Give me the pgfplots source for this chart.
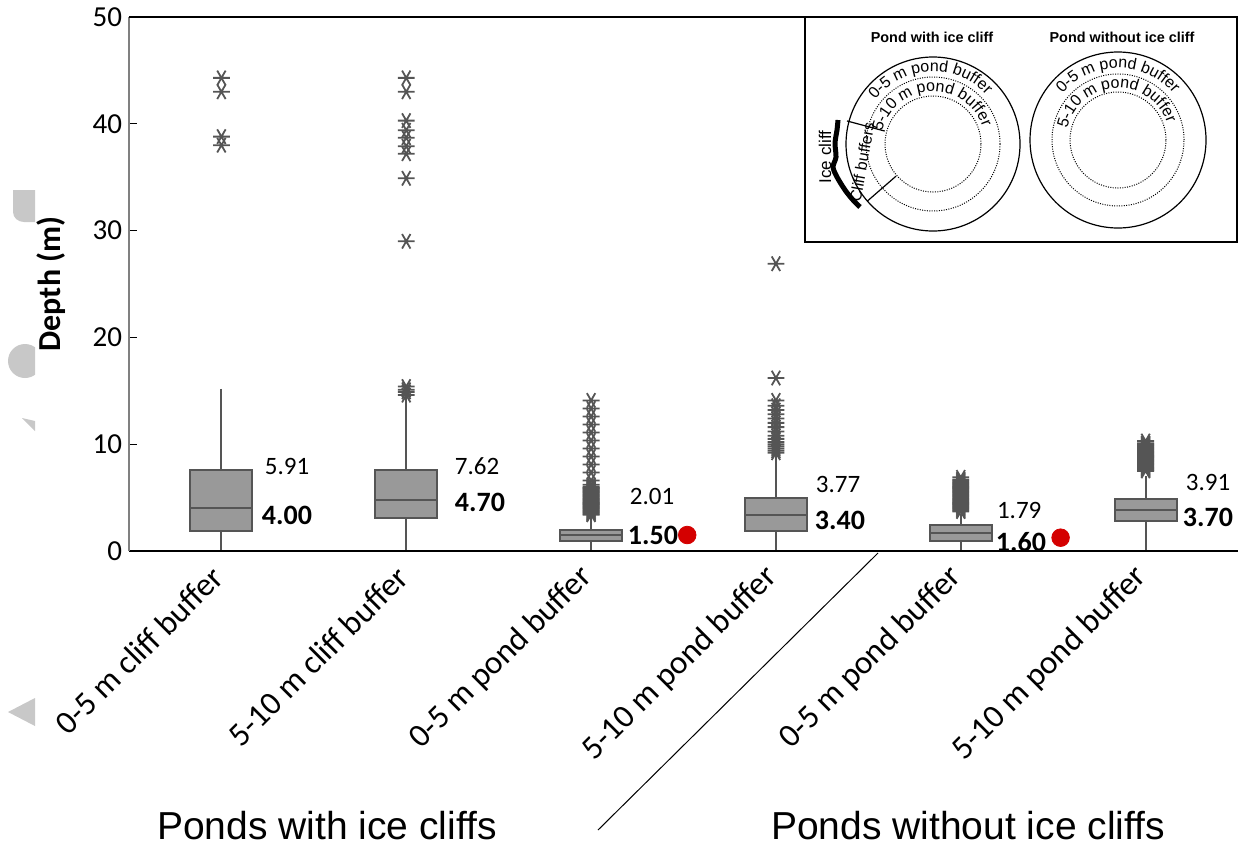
\documentclass[border=0pt]{standalone}
\usepackage{fontspec}
\setmainfont{Carlito}
\newfontfamily\arialf{Liberation Sans}
\usepackage{pgfplots}
\pgfplotsset{compat=1.18}
\usepgfplotslibrary{statistics}
\usetikzlibrary{decorations.text,calc}
\definecolor{boxfill}{HTML}{999999}
\definecolor{boxline}{HTML}{555555}
\definecolor{sig}{HTML}{D40000}
\definecolor{ghost}{HTML}{C8C8C8}
\newcommand\meanfont{\fontsize{12.5bp}{14bp}\selectfont}
\newcommand\medfont{\fontsize{14bp}{16bp}\selectfont\bfseries}
\newcommand\insetfont{\arialf\fontsize{8bp}{9.5bp}\selectfont}
\pgfplotsset{boxst/.style={draw=boxline, fill=boxfill, line width=1bp, solid, mark=none, boxplot/draw direction=y}}
\begin{document}
\begin{tikzpicture}
\begin{axis}[
  at={(64.5bp,-275.5bp)}, anchor=south west,
  scale only axis, width=554.5bp, height=267bp,
  xmin=-0.5, xmax=5.5, ymin=0, ymax=50,
  axis line style={draw=none},
  xtick={0,1,2,3,4,5},
  xticklabels={0-5 m cliff buffer,5-10 m cliff buffer,0-5 m pond buffer,5-10 m pond buffer,0-5 m pond buffer,5-10 m pond buffer},
  ytick={0,10,20,30,40,50},
  xtick pos=bottom, ytick pos=left, tick align=inside,
  major tick length=4bp, tick style={black, line width=0.6bp},
  /pgf/number format/assume math mode=true,
  yticklabel style={font=\fontsize{14.5bp}{16bp}\selectfont},
  xticklabel style={font=\fontsize{16.5bp}{18bp}\selectfont, yshift=-8bp, xshift=0.5bp, rotate=45, anchor=east},
  ylabel={\bfseries Depth (m)},
  ylabel style={font=\fontsize{16bp}{18bp}\selectfont, at={(axis description cs:-0.070,0.5)}, anchor=center},
  boxplot/draw direction=y,
  boxplot/box extend=0.335, boxplot/whisker extend=0,
  clip=false,
]
\addplot[boxst, boxplot prepared={lower whisker=0, lower quartile=1.9, median=4.05, upper quartile=7.58, upper whisker=15.2, draw position=0}] coordinates {};
\addplot[boxst, boxplot prepared={lower whisker=0, lower quartile=3.1, median=4.78, upper quartile=7.58, upper whisker=14.5, draw position=1}] coordinates {};
\addplot[boxst, boxplot prepared={lower whisker=0, lower quartile=0.97, median=1.47, upper quartile=1.97, upper whisker=3.3, draw position=2}] coordinates {};
\addplot[boxst, boxplot prepared={lower whisker=0, lower quartile=1.9, median=3.37, upper quartile=5.0, upper whisker=9.0, draw position=3}] coordinates {};
\addplot[boxst, boxplot prepared={lower whisker=0, lower quartile=0.97, median=1.72, upper quartile=2.43, upper whisker=3.5, draw position=4}] coordinates {};
\addplot[boxst, boxplot prepared={lower whisker=0, lower quartile=2.84, median=3.84, upper quartile=4.84, upper whisker=7.0, draw position=5}] coordinates {};
% outliers
\addplot[only marks, mark=asterisk, mark size=4.2bp, mark options={rotate=90, line width=0.9bp}, color=boxline] coordinates {
(0,44.3) (0,43.0) (0,38.8) (0,38.0)
(1,44.3) (1,43.0) (1,40.3) (1,39.4) (1,38.7) (1,37.9) (1,37.2) (1,34.9) (1,29.0) (1,15.4) (1,15.1) (1,14.9) (1,14.6)
(2,3.4) (2,3.5) (2,3.6) (2,3.7) (2,3.8) (2,3.9) (2,4.0) (2,4.1) (2,4.2) (2,4.3) (2,4.4) (2,4.5) (2,4.6) (2,4.7) (2,4.8) (2,4.9) (2,5.0) (2,5.1) (2,5.2) (2,5.3) (2,5.4) (2,5.5) (2,5.6) (2,5.7) (2,5.8) (2,5.9) (2,6.0) (2,6.2)
(2,6.6) (2,7.35) (2,8.1) (2,8.85) (2,9.6) (2,10.35) (2,11.1) (2,11.85) (2,12.6) (2,13.35) (2,14.1)
(3,9.2) (3,9.4) (3,9.6) (3,9.8) (3,10.0) (3,10.2) (3,10.5) (3,10.8) (3,11.2) (3,11.6) (3,12.0) (3,12.4) (3,12.8) (3,13.2) (3,13.6) (3,14.1) (3,16.2) (3,26.9)
(4,3.7) (4,3.8) (4,3.9) (4,4.0) (4,4.1) (4,4.2) (4,4.3) (4,4.4) (4,4.5) (4,4.6) (4,4.7) (4,4.8) (4,4.9) (4,5.0) (4,5.1) (4,5.2) (4,5.3) (4,5.4) (4,5.5) (4,5.6) (4,5.7) (4,5.8) (4,5.9) (4,6.0) (4,6.1) (4,6.2) (4,6.3) (4,6.4) (4,6.5) (4,6.6) (4,6.7) (4,6.9)
(5,7.5) (5,7.6) (5,7.7) (5,7.8) (5,7.9) (5,8.0) (5,8.1) (5,8.2) (5,8.3) (5,8.4) (5,8.5) (5,8.6) (5,8.7) (5,8.8) (5,8.9) (5,9.0) (5,9.1) (5,9.2) (5,9.3) (5,9.4) (5,9.5) (5,9.6) (5,9.7) (5,9.8) (5,9.9) (5,10.0) (5,10.1) (5,10.3)
};
% significance dots
\addplot[only marks, mark=*, mark size=4.4bp, color=sig] coordinates {(2.52,1.5) (4.54,1.25)};
% mean / median labels
\node[anchor=west, inner sep=0, font=\meanfont] at (axis cs:0.233,7.87) {5.91};
\node[anchor=west, inner sep=0, font=\medfont] at (axis cs:0.217,3.37) {4.00};
\node[anchor=west, inner sep=0, font=\meanfont] at (axis cs:1.261,7.96) {7.62};
\node[anchor=west, inner sep=0, font=\medfont] at (axis cs:1.261,4.59) {4.70};
\node[anchor=west, inner sep=0, font=\meanfont] at (axis cs:2.208,5.15) {2.01};
\node[anchor=west, inner sep=0, font=\medfont] at (axis cs:2.197,1.50) {1.50};
\node[anchor=west, inner sep=0, font=\meanfont] at (axis cs:3.214,6.27) {3.77};
\node[anchor=west, inner sep=0, font=\medfont] at (axis cs:3.209,2.90) {3.40};
\node[anchor=west, inner sep=0, font=\meanfont] at (axis cs:4.194,3.84) {1.79};
\node[anchor=west, inner sep=0, font=\medfont] at (axis cs:4.188,0.84) {1.60};
\node[anchor=west, inner sep=0, font=\meanfont] at (axis cs:5.216,6.46) {3.91};
\node[anchor=west, inner sep=0, font=\medfont] at (axis cs:5.200,3.18) {3.70};
% frame
\draw[black, line width=1.2bp] (rel axis cs:0,0) -- (rel axis cs:1,0);
\draw[gray, line width=0.6bp] (rel axis cs:0,0) -- (rel axis cs:0,1);
\draw[black, line width=0.8bp] (rel axis cs:0,1) -- (rel axis cs:1,1);
\end{axis}
\begin{scope}[x=0.5bp,y=0.5bp]
% ghost artifacts at left edge
\fill[ghost] (13,-190) -- (35,-190) -- (35,-222) -- (24,-222) to[out=180,in=-90] (13,-212) -- cycle;
\begin{scope}
\clip (0,-330) rectangle (35,-400);
\fill[ghost] (25,-361) circle[radius=17];
\end{scope}
\fill[ghost] (22,-418) -- (35,-421) -- (35,-431) -- cycle;
\fill[ghost] (8,-712) -- (35,-698) -- (35,-726) -- cycle;
% inset
\fill[white] (805,-17) rectangle (1237,-242);
\draw[line width=1bp] (805,-17) rectangle (1237,-242);
\node[font=\arialf\bfseries\fontsize{7.2bp}{9bp}\selectfont] at (932,-37) {Pond with ice cliff};
\node[font=\arialf\bfseries\fontsize{7.2bp}{9bp}\selectfont] at (1122,-37) {Pond without ice cliff};
\coordinate (L) at (933,-144);
\coordinate (R) at (1118,-140);
\draw[line width=0.6bp] (L) circle[radius=87];
\draw[line width=0.5bp, dash pattern=on 0.5bp off 0.7bp] (L) circle[radius=67];
\draw[line width=0.5bp, dash pattern=on 0.5bp off 0.7bp] (L) circle[radius=48];
\draw[line width=0.6bp] (R) circle[radius=88];
\draw[line width=0.5bp, dash pattern=on 0.5bp off 0.7bp] (R) circle[radius=66];
\draw[line width=0.5bp, dash pattern=on 0.5bp off 0.7bp] (R) circle[radius=48];
\path[decorate, decoration={text along path, text={|\insetfont|0-5 m pond buffer}, text align=center}] ($(L)+(165:72.5)$) arc[start angle=165, end angle=20, radius=72.5];
\path[decorate, decoration={text along path, text={|\insetfont|5-10 m pond buffer}, text align=center}] ($(L)+(175:52.5)$) arc[start angle=175, end angle=10, radius=52.5];
\path[decorate, decoration={text along path, text={|\insetfont|0-5 m pond buffer}, text align=center}] ($(R)+(165:72)$) arc[start angle=165, end angle=15, radius=72];
\path[decorate, decoration={text along path, text={|\insetfont|5-10 m pond buffer}, text align=center}] ($(R)+(175:52)$) arc[start angle=175, end angle=11, radius=52];
\draw[line width=0.6bp] ($(L)+(165:89)$) -- ($(L)+(165:50)$);
\draw[line width=0.6bp] ($(L)+(221:87)$) -- ($(L)+(221:49)$);
\draw[line width=2.5bp] plot[smooth] coordinates {(838,-120) (837,-130) (835,-143) (836,-157) (833,-167) (837,-177) (845,-190) (853,-200) (860,-207)};
\node[font=\arialf\fontsize{8.5bp}{10bp}\selectfont, rotate=90] at (825,-157) {Ice cliff};
\node[font=\insetfont, rotate=80] at (862,-162) {Cliff buffers};
% group separator and group titles
\draw[line width=0.5bp] (878,-553) -- (598,-830);
\node[anchor=base, font=\arialf\fontsize{19.5bp}{22bp}\selectfont] at (327,-839) {Ponds with ice cliffs};
\node[anchor=base, font=\arialf\fontsize{19.5bp}{22bp}\selectfont] at (968,-839) {Ponds without ice cliffs};
\pgfresetboundingbox
\useasboundingbox (0,0) rectangle (1238,-848);
\end{scope}
\end{tikzpicture}
\end{document}
